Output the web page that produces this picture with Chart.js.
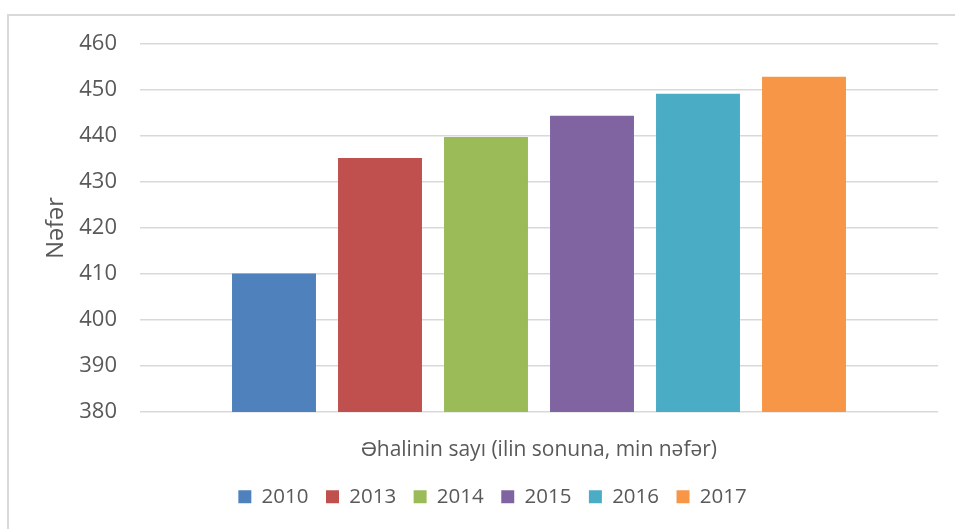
<!DOCTYPE html>
<html>
<head>
<meta charset="utf-8">
<script src="https://cdn.jsdelivr.net/npm/chart.js@4/dist/chart.umd.min.js"></script>
<style>
    html, body { margin: 0; padding: 0; background: #fff; overflow: hidden; width: 955px; height: 529px; }
    .frame { position: absolute; left: 7px; top: 14px; width: 1000px; height: 600px; border: 2px solid #d9d9d9; box-sizing: border-box; }
    #chart { position: absolute; left: 0; top: 0; }
</style>
</head>
<body>
<div class="frame"></div>
<canvas id="chart" width="985" height="529"></canvas>
<script>
// Verilənlər
const categories = ['Əhalinin sayı (ilin sonuna, min nəfər)'];
const years = ['2010', '2013', '2014', '2015', '2016', '2017'];
const population = [410.1, 435.2, 439.8, 444.4, 449.2, 452.9];
const colors = ['#4F81BD', '#C0504D', '#9BBB59', '#8064A2', '#4BACC6', '#F79646'];
const yTicks = [380, 390, 400, 410, 420, 430, 440, 450, 460];

const textColor = '#595959';
const fontFamily = '"Open Sans", sans-serif';

const datasets = years.map((year, i) => ({
    label: year,
    data: [population[i]],
    backgroundColor: colors[i],
    borderWidth: 0,
    categoryPercentage: 0.797,
    barPercentage: 0.792
}));

new Chart(document.getElementById('chart').getContext('2d'), {
    type: 'bar',
    data: {
        labels: categories,
        datasets: datasets
    },
    options: {
        responsive: false,
        animation: false,
        devicePixelRatio: 1,
        layout: {
            padding: { top: 44, right: 47, left: 47, bottom: 12 }
        },
        plugins: {
            legend: {
                position: 'bottom',
                labels: {
                    color: textColor,
                    font: { family: fontFamily, size: 20.5 },
                    boxWidth: 13,
                    boxHeight: 13,
                    padding: 17.5
                }
            },
            tooltip: { enabled: false }
        },
        scales: {
            x: {
                grid: { display: false },
                border: { display: false },
                ticks: {
                    color: textColor,
                    font: { family: fontFamily, size: 21 },
                    padding: 17
                },
                afterFit: scale => { scale.height = 57; }
            },
            y: {
                min: yTicks[0],
                max: yTicks[yTicks.length - 1],
                afterBuildTicks: scale => {
                    scale.ticks = yTicks.map(v => ({ value: v }));
                },
                grid: {
                    color: '#d9d9d9',
                    lineWidth: 1.5,
                    drawTicks: false
                },
                border: { display: false },
                ticks: {
                    color: textColor,
                    font: { family: fontFamily, size: 22 },
                    padding: 23
                },
                title: {
                    display: true,
                    text: 'Nəfər',
                    color: textColor,
                    font: { family: fontFamily, size: 23.5, lineHeight: 1 },
                    padding: { top: -2, bottom: 0 }
                },
                afterFit: scale => { scale.width = 93; }
            }
        }
    }
});
</script>
</body>
</html>
